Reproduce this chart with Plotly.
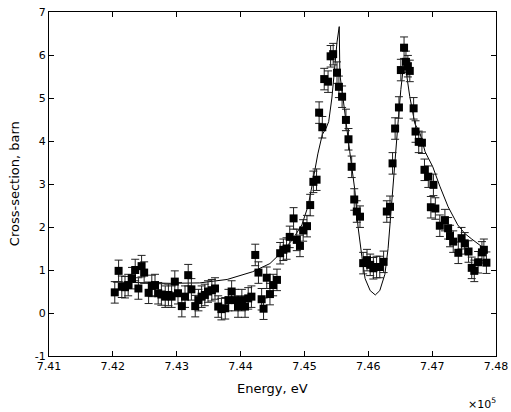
import plotly.graph_objects as go

# Energy in units of 1e5 eV
energy = [7.4203, 7.4209, 7.4214, 7.4219, 7.4224, 7.4230, 7.4235, 7.4240, 7.4245, 7.4249,
          7.4256, 7.4261, 7.4266, 7.4271, 7.4276, 7.4282, 7.4287, 7.4292, 7.4297, 7.4302,
          7.4308, 7.4313, 7.4318, 7.4323, 7.4329, 7.4334, 7.4339, 7.4344, 7.4349, 7.4355,
          7.4360, 7.4365, 7.4370, 7.4376, 7.4381, 7.4386, 7.4391, 7.4396, 7.4402, 7.4407,
          7.4412, 7.4417, 7.4423, 7.4428, 7.4433, 7.4436, 7.4441, 7.4446, 7.4451, 7.4457,
          7.4462, 7.4467, 7.4472, 7.4477, 7.4483, 7.4488, 7.4493, 7.4498, 7.4504, 7.4509,
          7.4514, 7.4519, 7.4523, 7.4528, 7.4531, 7.4537, 7.4541, 7.4545, 7.4551, 7.4554,
          7.4559, 7.4565, 7.4569, 7.4574, 7.4578, 7.4582, 7.4587, 7.4592, 7.4598, 7.4603,
          7.4608, 7.4613, 7.4618, 7.4624, 7.4629, 7.4634, 7.4638, 7.4642, 7.4648, 7.4651,
          7.4656, 7.4659, 7.4662, 7.4665, 7.4671, 7.4674, 7.4679, 7.4684, 7.4688, 7.4694,
          7.4698, 7.4702, 7.4705, 7.4712, 7.4720, 7.4725, 7.4728, 7.4733, 7.4741, 7.4746,
          7.4751, 7.4757, 7.4762, 7.4766, 7.4772, 7.4778, 7.4781, 7.4785]
cross_section = [0.48, 0.98, 0.61, 0.60, 0.65, 0.81, 1.00, 0.57, 1.09, 0.94,
                 0.47, 0.63, 0.65, 0.46, 0.43, 0.38, 0.42, 0.38, 0.73, 0.46,
                 0.16, 0.38, 0.88, 0.55, 0.16, 0.30, 0.38, 0.42, 0.50, 0.53,
                 0.57, 0.15, 0.09, 0.11, 0.30, 0.50, 0.30, 0.15, 0.30, 0.15,
                 0.34, 0.38, 1.35, 0.94, 0.32, 0.10, 0.82, 0.44, 0.65, 0.77,
                 1.39, 1.47, 1.50, 1.77, 2.20, 1.70, 1.56, 1.92, 2.02, 2.51,
                 3.05, 3.10, 4.66, 4.32, 5.44, 5.38, 5.97, 6.02, 5.59, 5.26,
                 5.03, 4.49, 4.04, 3.40, 2.64, 2.36, 2.24, 1.16, 1.23, 1.12,
                 1.04, 1.07, 1.07, 1.19, 2.36, 2.47, 3.48, 4.29, 4.78, 5.65,
                 6.17, 5.84, 5.74, 5.63, 4.76, 4.22, 3.98, 3.96, 3.33, 3.17,
                 2.46, 2.98, 2.43, 2.03, 2.16, 1.97, 1.79, 1.66, 1.40, 1.74,
                 1.62, 1.43, 1.05, 0.98, 1.18, 1.41, 1.47, 1.17]
error = 0.25

fit_energy = [7.4200, 7.4243, 7.4290, 7.4336, 7.4379, 7.4419, 7.4446, 7.4462, 7.4481, 7.4496,
              7.4506, 7.4513, 7.4521, 7.4528, 7.4534, 7.4538, 7.4543, 7.4548, 7.4551, 7.45545,
              7.45555, 7.4560, 7.4566, 7.4571, 7.4579, 7.4584, 7.4590, 7.4595, 7.4603, 7.4611,
              7.4618, 7.4626, 7.4631, 7.4636, 7.4642, 7.4647, 7.4651, 7.4654, 7.4658, 7.4662,
              7.4665, 7.4673, 7.4681, 7.4689, 7.4701, 7.4712, 7.4725, 7.4740, 7.4751, 7.4762,
              7.4778, 7.4786]
fit_value = [0.72, 0.70, 0.69, 0.70, 0.78, 0.96, 1.15, 1.38, 1.70, 2.05,
             2.50, 3.05, 3.70, 4.15, 4.30, 4.45, 5.00, 5.80, 6.30, 6.66,
             5.55, 5.05, 4.40, 3.75, 2.85, 2.00, 1.31, 0.80, 0.52, 0.42,
             0.52, 0.90, 1.50, 2.50, 3.60, 4.50, 5.20, 5.60, 5.75, 5.30,
             5.03, 4.40, 4.18, 3.75, 3.40, 2.95, 2.47, 2.05, 1.85, 1.72,
             1.55, 1.45]

x_ticks = [7.41, 7.42, 7.43, 7.44, 7.45, 7.46, 7.47, 7.48]
y_ticks = [-1, 0, 1, 2, 3, 4, 5, 6, 7]

tick_font = dict(family="DejaVu Sans, sans-serif", size=11, color="black")
title_font = dict(family="DejaVu Sans, sans-serif", size=13, color="black")

fig = go.Figure()
fig.add_trace(go.Scatter(
    x=fit_energy, y=fit_value, mode="lines",
    line=dict(color="black", width=1), showlegend=False))
fig.add_trace(go.Scatter(
    x=energy, y=cross_section, mode="markers",
    marker=dict(symbol="square", size=8, color="black"),
    error_y=dict(type="constant", value=error, color="#202020", thickness=1, width=4),
    showlegend=False))

axis_common = dict(showline=True, linecolor="black", linewidth=1, mirror="ticks",
                   ticks="inside", ticklen=5, tickcolor="black", showgrid=False,
                   zeroline=False, tickfont=tick_font, automargin=False)
fig.update_xaxes(range=[7.41, 7.48], tickvals=x_ticks,
                 ticktext=[f"{v:.2f}" for v in x_ticks], **axis_common)
fig.update_yaxes(range=[-1, 7], tickvals=y_ticks,
                 ticktext=[str(v) for v in y_ticks], **axis_common)

fig.update_layout(
    width=511, height=412,
    margin=dict(l=49, r=15, t=12, b=56),
    paper_bgcolor="white", plot_bgcolor="white",
    font=tick_font,
    annotations=[
        dict(text="Energy, eV", xref="paper", yref="paper", x=0.5, y=-0.095,
             xanchor="center", yanchor="middle", showarrow=False, font=title_font),
        dict(text="Cross-section, barn", xref="paper", yref="paper", x=-0.078, y=0.5,
             textangle=-90, xanchor="center", yanchor="middle", showarrow=False, font=title_font),
        dict(text="×10<sup>5</sup>", xref="paper", yref="paper", x=1.005, y=-0.138,
             xanchor="right", yanchor="middle", showarrow=False, font=tick_font),
    ],
)

# remove the default page margin so the 511x412 figure fills the window exactly
fig.write_html("out.html", config={"displayModeBar": False},
               post_script="document.body.style.margin='0';document.body.style.overflow='hidden';")
